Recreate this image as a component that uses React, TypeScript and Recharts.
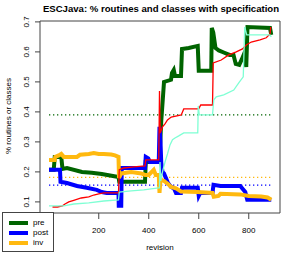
import React from "react";
import {
  Line,
  LineChart,
  ReferenceArea,
  XAxis,
  YAxis,
} from "recharts";

// revision -> share of routines/classes
const pre: [number, number][] = [
  [1, 0.207], [20, 0.207], [24, 0.25], [50, 0.25], [55, 0.21], [73, 0.213],
  [133, 0.2], [172, 0.197], [212, 0.193], [251, 0.187], [279, 0.183],
  [282, 0.167], [385, 0.167], [388, 0.233], [440, 0.233], [446, 0.3],
  [450, 0.37], [456, 0.44], [461, 0.5], [489, 0.507], [493, 0.53],
  [500, 0.54], [505, 0.52], [529, 0.52], [533, 0.61], [560, 0.613],
  [596, 0.62], [600, 0.537], [650, 0.537], [652, 0.68], [658, 0.665],
  [667, 0.613], [680, 0.605], [700, 0.598], [723, 0.59], [739, 0.59],
  [748, 0.56], [762, 0.557], [772, 0.575], [782, 0.595], [790, 0.55],
  [795, 0.683], [885, 0.68], [890, 0.657],
];

const post: [number, number][] = [
  [1, 0.207], [45, 0.207], [47, 0.167], [73, 0.163], [113, 0.153],
  [152, 0.147], [192, 0.14], [212, 0.133], [232, 0.13], [279, 0.13],
  [280, 0.087], [290, 0.087], [292, 0.213], [385, 0.213], [388, 0.25],
  [398, 0.245], [405, 0.233], [440, 0.233], [443, 0.35], [447, 0.3],
  [450, 0.23], [455, 0.2], [461, 0.195], [477, 0.163], [489, 0.15],
  [501, 0.145], [509, 0.13], [529, 0.13], [533, 0.147], [596, 0.147],
  [600, 0.12], [606, 0.13], [655, 0.13], [659, 0.157], [687, 0.153],
  [766, 0.153], [786, 0.133], [794, 0.107], [885, 0.107], [890, 0.107],
];

const inv: [number, number][] = [
  [1, 0.24], [24, 0.24], [26, 0.25], [40, 0.255], [50, 0.26], [60, 0.25],
  [113, 0.25], [125, 0.257], [160, 0.26], [180, 0.263], [200, 0.26],
  [220, 0.26], [250, 0.258], [265, 0.255], [279, 0.25], [281, 0.18],
  [290, 0.195], [330, 0.2], [370, 0.195], [385, 0.19], [400, 0.19],
  [420, 0.207], [428, 0.19], [440, 0.19], [443, 0.13], [447, 0.175],
  [461, 0.17], [477, 0.16], [489, 0.15], [509, 0.145], [529, 0.135],
  [596, 0.133], [655, 0.13], [660, 0.117], [679, 0.12], [687, 0.127],
  [766, 0.125], [800, 0.12], [850, 0.118], [875, 0.115], [890, 0.107],
];

const routines: [number, number][] = [
  [15, 0.083], [35, 0.083], [55, 0.087], [65, 0.093], [80, 0.1],
  [100, 0.105], [130, 0.113], [160, 0.117], [180, 0.123], [200, 0.127],
  [220, 0.13], [279, 0.13], [282, 0.207], [300, 0.213], [340, 0.217],
  [385, 0.22], [388, 0.24], [440, 0.24], [443, 0.47], [446, 0.33],
  [455, 0.35], [465, 0.36], [475, 0.373], [490, 0.383], [530, 0.39],
  [540, 0.41], [600, 0.41], [608, 0.423], [655, 0.423], [658, 0.563],
  [690, 0.573], [720, 0.59], [750, 0.6], [775, 0.61], [790, 0.623],
  [810, 0.633], [845, 0.64], [870, 0.647], [885, 0.66], [888, 0.683],
];

const classes: [number, number][] = [
  [1, 0.087], [60, 0.087], [100, 0.093], [160, 0.097], [220, 0.103],
  [279, 0.107], [282, 0.133], [330, 0.137], [380, 0.14], [440, 0.147],
  [443, 0.147], [445, 0.233], [448, 0.17], [455, 0.2], [465, 0.233],
  [475, 0.26], [485, 0.29], [495, 0.307], [505, 0.313], [520, 0.32],
  [540, 0.33], [596, 0.33], [598, 0.42], [602, 0.39], [655, 0.39],
  [660, 0.44], [670, 0.45], [700, 0.457], [740, 0.473], [760, 0.497],
  [778, 0.517], [784, 0.683], [792, 0.657], [885, 0.657], [890, 0.65],
];

// dotted reference levels
const preLevel = 0.39;
const invLevel = 0.182;
const postLevel = 0.156;
const levelSpan = [1, 890];

const revTicks = [200, 400, 600, 800];
const valueTicks = [0.1, 0.2, 0.3, 0.4, 0.5, 0.6, 0.7];

const legendItems = [
  { name: "pre", color: "#006400" },
  { name: "post", color: "#0000FF" },
  { name: "inv", color: "#FFB90F" },
];

const FONT = "'Liberation Sans', Arial, Helvetica, sans-serif";

const toPoints = (pairs: [number, number][]) =>
  pairs.map(([rev, v]) => ({ rev, v }));

const level = (v: number) => levelSpan.map((rev) => ({ rev, v }));

const XTick = ({ x, payload }: any) => (
  <text x={x} y={233} textAnchor="middle" fontSize={8} fontFamily={FONT} fill="#000">
    {payload.value}
  </text>
);

const YTick = ({ y, payload }: any) => (
  <text
    x={29.5}
    y={y}
    transform={`rotate(-90 29.5 ${y})`}
    textAnchor="middle"
    fontSize={8}
    fontFamily={FONT}
    fill="#000"
  >
    {payload.value.toFixed(1)}
  </text>
);

export default function App() {
  return (
    <div style={{ position: "fixed", left: 0, top: 0, width: 294, height: 254, background: "#fff" }}>
      <div
        style={{
          position: "absolute",
          left: 0,
          top: 3,
          width: 322,
          textAlign: "center",
          fontFamily: FONT,
          fontWeight: "bold",
          fontSize: 9.6,
          lineHeight: "12px",
          whiteSpace: "nowrap",
        }}
      >
        ESCJava: % routines and classes with specification
      </div>
      <LineChart width={294} height={254} margin={{ top: 21, right: 14, bottom: 0, left: 0 }}>
        <XAxis
          dataKey="rev"
          type="number"
          domain={[-35, 925]}
          ticks={revTicks}
          allowDataOverflow
          height={41}
          axisLine={false}
          tickSize={6}
          tickLine={{ stroke: "#444" }}
          tick={<XTick />}
          label={{
            content: () => (
              <text x={160} y={250} textAnchor="middle" fontSize={8} fontFamily={FONT}>
                revision
              </text>
            ),
          }}
        />
        <YAxis
          type="number"
          domain={[0.063, 0.703]}
          ticks={valueTicks}
          allowDataOverflow
          width={40}
          axisLine={false}
          tickSize={5}
          tickLine={{ stroke: "#444" }}
          tick={<YTick />}
          label={{
            content: () => (
              <text
                x={10.5}
                y={116}
                transform="rotate(-90 10.5 116)"
                textAnchor="middle"
                fontSize={8}
                fontFamily={FONT}
              >
                % routines or classes
              </text>
            ),
          }}
        />
        <ReferenceArea x1={-35} x2={925} y1={0.063} y2={0.703} fill="none" stroke="#444" strokeWidth={1} />

        <Line data={level(preLevel)} dataKey="v" stroke="#006400" strokeWidth={1.3} strokeDasharray="1.3 2.7" dot={false} isAnimationActive={false} />
        <Line data={level(invLevel)} dataKey="v" stroke="#FFB90F" strokeWidth={1.3} strokeDasharray="1.3 2.7" dot={false} isAnimationActive={false} />
        <Line data={level(postLevel)} dataKey="v" stroke="#0000FF" strokeWidth={1.3} strokeDasharray="1.3 2.7" dot={false} isAnimationActive={false} />

        <Line data={toPoints(pre)} dataKey="v" stroke="#006400" strokeWidth={4} dot={false} isAnimationActive={false} />
        <Line data={toPoints(post)} dataKey="v" stroke="#0000FF" strokeWidth={4} dot={false} isAnimationActive={false} />
        <Line data={toPoints(inv)} dataKey="v" stroke="#FFB90F" strokeWidth={4} dot={false} isAnimationActive={false} />
        <Line data={toPoints(routines)} dataKey="v" stroke="#FF0000" strokeWidth={1.3} dot={false} isAnimationActive={false} />
        <Line data={toPoints(classes)} dataKey="v" stroke="#7FFFD4" strokeWidth={1.3} dot={false} isAnimationActive={false} />
      </LineChart>
      <div
        style={{
          position: "absolute",
          left: 2,
          top: 212,
          width: 50,
          height: 38,
          border: "1px solid #444",
          background: "#fff",
          fontFamily: FONT,
          fontSize: 8,
        }}
      >
        {legendItems.map((item, i) => (
          <div
            key={item.name}
            style={{ position: "absolute", left: 6, top: 5 + i * 10, height: 10, display: "flex", alignItems: "center" }}
          >
            <span style={{ display: "inline-block", width: 19, height: 3.5, background: item.color }} />
            <span style={{ marginLeft: 5, lineHeight: "10px" }}>{item.name}</span>
          </div>
        ))}
      </div>
    </div>
  );
}
